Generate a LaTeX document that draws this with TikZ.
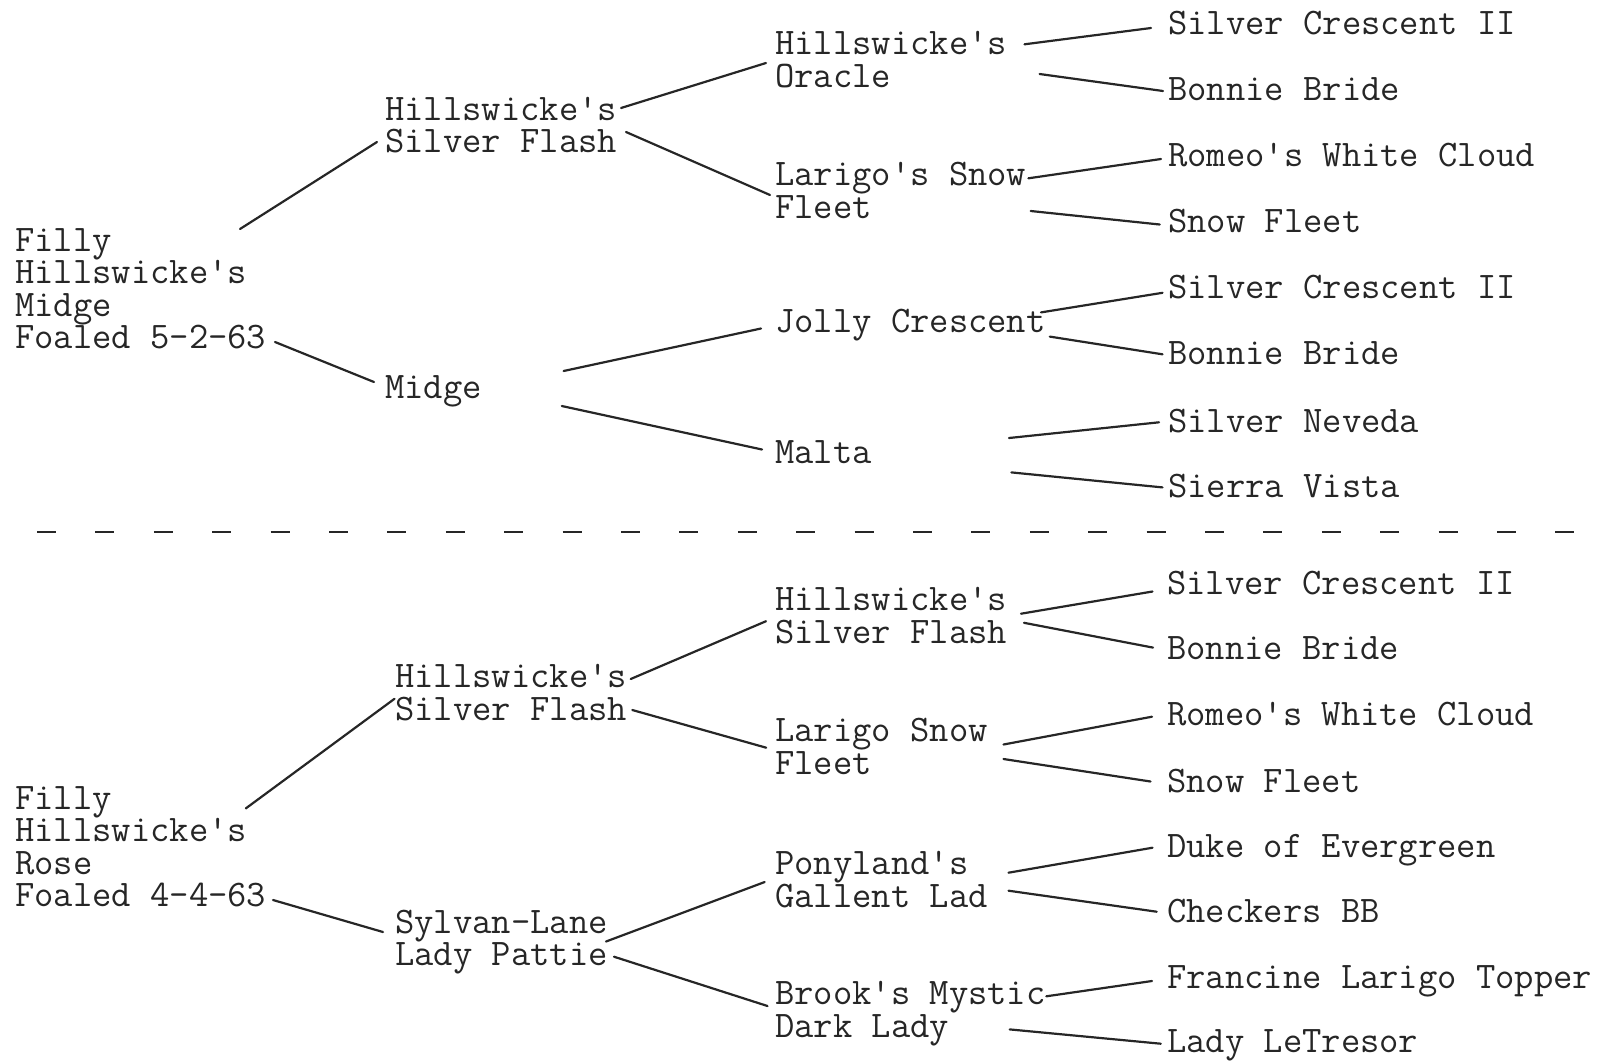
\documentclass[tikz,border=0pt]{standalone}
\usepackage{fontspec}
\begin{document}
\begin{tikzpicture}[x=1pt,y=-1pt,
  pname/.style={anchor=base west,inner sep=0pt,align=left,text=black!85,
    font=\ttfamily\fontsize{37.5pt}{32.5pt}\selectfont},
  link/.style={line width=2.2pt,draw=black!85,line cap=round},
  sepline/.style={line width=2.4pt,draw=black!85,dash pattern=on 19pt off 39.4pt}]
\useasboundingbox (0,0) rectangle (1598,1061);
% ---------- top pedigree (node positions = baseline of last line) ----------
\node[pname] (A0) at (15,348.5) {Filly\\Hillswicke's\\Midge\\Foaled 5-2-63};
\node[pname] (A1) at (385,152.5) {Hillswicke's\\Silver Flash};
\node[pname] (A2) at (385,398.5) {Midge};
\node[pname] (A11) at (775,87.2) {Hillswicke's\\Oracle};
\node[pname] (A12) at (775,218.3) {Larigo's Snow\\Fleet};
\node[pname] (A21) at (775,332.8) {Jolly Crescent};
\node[pname] (A22) at (775,463.5) {Malta};
\node[pname] (A111) at (1168,34.5) {Silver Crescent II};
\node[pname] (A112) at (1168,100) {Bonnie Bride};
\node[pname] (A121) at (1168,166) {Romeo's White Cloud};
\node[pname] (A122) at (1168,232) {Snow Fleet};
\node[pname] (A211) at (1168,298) {Silver Crescent II};
\node[pname] (A212) at (1168,364) {Bonnie Bride};
\node[pname] (A221) at (1168,432) {Silver Neveda};
\node[pname] (A222) at (1168,497) {Sierra Vista};
\draw[link] ([shift={(225,-119.5)}]A0.base west) -- ([shift={(-8,-10.5)}]A1.base west);
\draw[link] ([shift={(260,-6.5)}]A0.base west) -- ([shift={(-11,-16.5)}]A2.base west);
\draw[link] ([shift={(236,-44.5)}]A1.base west) -- ([shift={(-9,-24.2)}]A11.base west);
\draw[link] ([shift={(241,-20.5)}]A1.base west) -- ([shift={(-5,-23.3)}]A12.base west);
\draw[link] ([shift={(178.6,-27.5)}]A2.base west) -- ([shift={(-14,-4.3)}]A21.base west);
\draw[link] ([shift={(176.8,7.5)}]A2.base west) -- ([shift={(-13,-14)}]A22.base west);
\draw[link] ([shift={(249.5,-42.9)}]A11.base west) -- ([shift={(-17,-6.5)}]A111.base west);
\draw[link] ([shift={(264.6,-13.2)}]A11.base west) -- ([shift={(-5,-9)}]A112.base west);
\draw[link] ([shift={(253.4,-40)}]A12.base west) -- ([shift={(-7,-7)}]A121.base west);
\draw[link] ([shift={(255.7,-7.3)}]A12.base west) -- ([shift={(-8.3,-7.5)}]A122.base west);
\draw[link] ([shift={(266,-20.4)}]A21.base west) -- ([shift={(-5.5,-5.2)}]A211.base west);
\draw[link] ([shift={(274.8,3.8)}]A21.base west) -- ([shift={(-5.5,-9.7)}]A212.base west);
\draw[link] ([shift={(234,-25.5)}]A22.base west) -- ([shift={(-9,-9.7)}]A221.base west);
\draw[link] ([shift={(236.4,8.9)}]A22.base west) -- ([shift={(-5.5,-9.6)}]A222.base west);
% ---------- separator ----------
\coordinate (sepL) at (37,531.7);
\coordinate (sepR) at (1580,531.7);
\draw[sepline] (sepL) -- (sepR);
% ---------- bottom pedigree ----------
\node[pname] (B0) at (15,906.9) {Filly\\Hillswicke's\\Rose\\Foaled 4-4-63};
\node[pname] (B1) at (395,720.2) {Hillswicke's\\Silver Flash};
\node[pname] (B2) at (395,965.7) {Sylvan-Lane\\Lady Pattie};
\node[pname] (B11) at (775,643) {Hillswicke's\\Silver Flash};
\node[pname] (B12) at (775,774) {Larigo Snow\\Fleet};
\node[pname] (B21) at (775,907) {Ponyland's\\Gallent Lad};
\node[pname] (B22) at (775,1037) {Brook's Mystic\\Dark Lady};
\node[pname] (B111) at (1167,594.5) {Silver Crescent II};
\node[pname] (B112) at (1167,659.5) {Bonnie Bride};
\node[pname] (B121) at (1167,725.6) {Romeo's White Cloud};
\node[pname] (B122) at (1167,792.3) {Snow Fleet};
\node[pname] (B211) at (1167,857.5) {Duke of Evergreen};
\node[pname] (B212) at (1167,922.5) {Checkers BB};
\node[pname] (B221) at (1167,988.7) {Francine Larigo Topper};
\node[pname] (B222) at (1167,1052) {Lady LeTresor};
\draw[link] ([shift={(230.8,-98.5)}]B0.base west) -- ([shift={(-0.5,-21.4)}]B1.base west);
\draw[link] ([shift={(258,-6.9)}]B0.base west) -- ([shift={(-12,-33.7)}]B2.base west);
\draw[link] ([shift={(235.7,-41.2)}]B1.base west) -- ([shift={(-9,-21.8)}]B11.base west);
\draw[link] ([shift={(237.3,-10.2)}]B1.base west) -- ([shift={(-8.8,-26.3)}]B12.base west);
\draw[link] ([shift={(211,-24.2)}]B2.base west) -- ([shift={(-10.3,-25)}]B21.base west);
\draw[link] ([shift={(219,-9)}]B2.base west) -- ([shift={(-7.5,-31)}]B22.base west);
\draw[link] ([shift={(246,-29.3)}]B11.base west) -- ([shift={(-14.5,-3)}]B111.base west);
\draw[link] ([shift={(249,-20.2)}]B11.base west) -- ([shift={(-14,-11.9)}]B112.base west);
\draw[link] ([shift={(228.5,-29.5)}]B12.base west) -- ([shift={(-15,-8.9)}]B121.base west);
\draw[link] ([shift={(228.5,-15)}]B12.base west) -- ([shift={(-16.5,-10.8)}]B122.base west);
\draw[link] ([shift={(233.5,-34.3)}]B21.base west) -- ([shift={(-14.5,-9.8)}]B211.base west);
\draw[link] ([shift={(233.5,-16.3)}]B21.base west) -- ([shift={(-10.3,-10.8)}]B212.base west);
\draw[link] ([shift={(271.3,-40.7)}]B22.base west) -- ([shift={(-15,-7.7)}]B221.base west);
\draw[link] ([shift={(234.7,-7.6)}]B22.base west) -- ([shift={(-6.2,-8.3)}]B222.base west);
\end{tikzpicture}
\end{document}
